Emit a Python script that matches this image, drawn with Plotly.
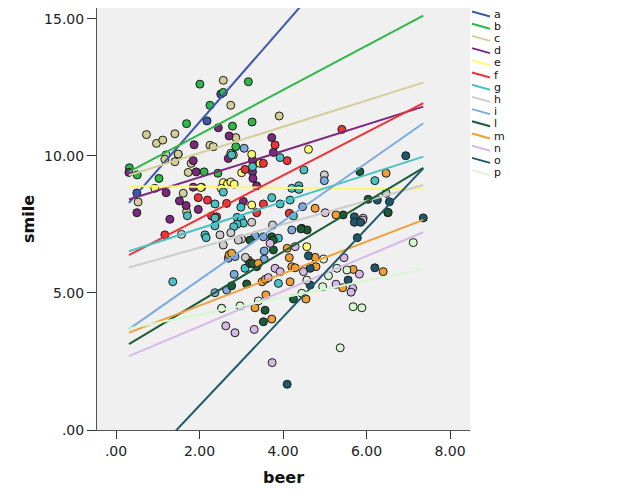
import plotly.graph_objects as go

# ---------------- data ----------------
groups = ["a", "b", "c", "d", "e", "f", "g", "h", "i", "l", "m", "n", "o", "p"]
colors = ["#3E58AC", "#2EB848", "#D3CE97", "#7C287D", "#FBF873", "#EF3338", "#48C2C5",
          "#CCCCCC", "#7BAADD", "#1C5B37", "#F19E37", "#D8B8E6", "#1E586B", "#D6F7D2"]

a_beer = [0.50, 2.18, 2.51]
a_smile = [8.65, 11.28, 12.26]
b_beer = [2.01, 3.17, 2.57, 2.25, 1.69, 2.79, 3.26, 2.87, 1.49, 0.32, 0.51, 1.03, 2.11, 2.44]
b_smile = [12.62, 12.71, 12.32, 11.85, 11.18, 11.09, 11.24, 10.34, 10.06, 9.57, 9.31, 9.18, 9.42, 9.37]
c_beer = [2.57, 2.75, 0.73, 0.97, 1.12, 1.41, 2.87, 2.25, 2.33, 1.20, 1.49, 2.75, 2.81, 1.80,
          1.73, 1.61, 0.53, 1.69, 3.91, 1.41, 1.17]
c_smile = [12.76, 11.85, 10.78, 10.46, 10.58, 10.81, 10.67, 10.39, 10.34, 10.04, 10.07, 10.10, 10.04, 9.73,
           9.40, 8.64, 8.32, 7.97, 11.46, 9.79, 9.88]
d_beer = [0.31, 2.45, 2.71, 1.87, 1.85, 1.92, 2.69, 3.27, 3.37, 1.20, 1.85, 2.05, 0.50, 1.52,
          1.68, 3.05, 1.29, 3.73, 3.77, 3.27, 3.28, 1.97]
d_smile = [9.40, 11.03, 10.73, 10.41, 9.83, 9.42, 9.91, 9.85, 8.91, 8.66, 8.86, 8.86, 7.93, 8.36,
           8.19, 8.34, 7.69, 10.67, 10.13, 9.42, 9.18, 8.05]
e_beer = [0.93, 2.03, 2.57, 2.67, 2.75, 3.01, 3.25, 3.45, 4.61, 2.83, 3.25, 4.57, 2.52]
e_smile = [8.82, 8.85, 9.03, 8.98, 9.05, 9.39, 10.06, 9.73, 10.24, 8.97, 8.21, 6.69, 8.82]
f_beer = [1.97, 2.19, 3.53, 2.29, 2.41, 2.65, 5.41, 3.81, 4.10, 3.53, 3.09, 3.37, 4.15, 1.17, 3.17]
f_smile = [8.48, 8.39, 8.25, 7.81, 7.78, 8.27, 10.97, 10.40, 9.83, 9.73, 9.51, 7.93, 7.91, 7.12, 6.20]
g_beer = [2.57, 2.37, 1.71, 2.37, 3.93, 2.77, 3.27, 4.50, 4.21, 4.38, 4.38, 3.73, 3.93, 4.17,
          2.99, 4.25, 2.90, 3.00, 3.05, 2.90, 2.82, 2.13, 2.16, 1.36, 3.89, 3.09, 3.89, 6.20, 2.37]
g_smile = [8.68, 8.25, 7.82, 7.45, 9.94, 10.04, 9.61, 9.49, 8.82, 8.91, 8.78, 8.48, 8.25, 8.39,
           8.13, 7.81, 7.76, 7.70, 7.55, 7.51, 7.42, 7.12, 7.02, 5.41, 7.00, 5.90, 5.35, 9.10, 7.74]
h_beer = [3.25, 3.75, 1.57, 2.49, 2.57, 3.01, 2.93, 4.99, 6.47, 5.92, 2.75, 3.10]
h_smile = [7.58, 7.48, 7.14, 7.12, 6.75, 6.97, 6.93, 9.31, 8.64, 7.73, 7.20, 6.30]
i_beer = [3.07, 4.99, 4.47, 2.37, 2.65, 2.69, 3.33, 3.53, 4.21, 2.83, 2.85, 3.55, 3.55]
i_smile = [10.28, 9.10, 8.15, 5.01, 5.11, 6.27, 7.09, 7.05, 7.30, 5.68, 6.33, 6.53, 6.23]
l_beer = [5.44, 4.45, 4.58, 4.43, 3.21, 3.73, 3.77, 3.77, 3.21, 3.37, 4.25, 3.57, 3.53, 2.53,
          2.77, 3.13, 6.51, 5.84, 6.04, 6.52, 3.27]
l_smile = [7.85, 7.36, 7.30, 7.34, 6.93, 7.05, 6.93, 6.57, 6.08, 5.96, 4.78, 4.37, 3.95, 4.44,
           5.26, 5.33, 7.93, 9.43, 8.42, 7.94, 6.08]
m_beer = [4.77, 5.27, 2.71, 2.77, 3.41, 4.10, 4.15, 4.21, 4.29, 4.77, 4.79, 5.43, 3.50, 4.17,
          3.59, 4.55, 3.33, 3.73, 6.47, 6.40, 5.68, 3.58]
m_smile = [8.09, 7.85, 6.39, 6.45, 6.08, 6.63, 6.29, 5.96, 5.92, 6.30, 5.96, 5.19, 5.41, 5.41,
           4.93, 4.78, 4.46, 4.05, 9.37, 5.78, 5.86, 5.50]
n_beer = [5.01, 3.69, 4.29, 3.81, 3.93, 4.49, 5.46, 5.27, 3.65, 2.85, 3.31, 3.74, 2.63, 5.91,
          5.83, 5.67, 5.63]
n_smile = [7.93, 6.81, 6.69, 5.90, 5.78, 5.78, 6.29, 5.32, 5.56, 3.55, 3.67, 2.46, 3.80, 7.66,
           5.69, 5.17, 5.03]
o_beer = [7.36, 5.78, 5.71, 5.71, 5.86, 6.20, 4.61, 4.65, 5.56, 4.65, 4.10, 6.94, 6.26, 6.55]
o_smile = [7.74, 7.02, 7.78, 7.58, 7.58, 5.92, 6.36, 5.90, 5.47, 5.29, 1.67, 10.01, 8.39, 8.33]
p_beer = [7.12, 4.97, 5.09, 5.29, 5.53, 4.95, 4.45, 2.97, 3.41, 5.37, 5.68, 5.89, 4.57, 2.53]
p_smile = [6.84, 6.24, 5.63, 5.90, 5.84, 5.23, 4.99, 4.53, 4.71, 3.00, 4.50, 4.46, 5.47, 4.44]

# subgroup linear fit coefficients (smile = intercept + slope * beer)
fit_intercept = [7.75, 9.17, 9.15, 8.26, 8.91, 6.14, 6.37, 5.80, 3.35, 2.85, 3.37, 2.50, -2.34, 3.61]
fit_slope = [1.744, 0.809, 0.479, 0.481, -0.017, 0.787, 0.490, 0.427, 1.066, 0.913, 0.584, 0.641, 1.615, 0.306]

x_ticks = [0, 2, 4, 6, 8]
x_ticktext = [".00", "2.00", "4.00", "6.00", "8.00"]
y_ticks = [0, 5, 10, 15]
y_ticktext = [".00", "5.00", "10.00", "15.00"]

beer_lists = [a_beer, b_beer, c_beer, d_beer, e_beer, f_beer, g_beer, h_beer, i_beer, l_beer,
              m_beer, n_beer, o_beer, p_beer]
smile_lists = [a_smile, b_smile, c_smile, d_smile, e_smile, f_smile, g_smile, h_smile, i_smile, l_smile,
               m_smile, n_smile, o_smile, p_smile]

# ---------------- figure ----------------
W, H = 625, 500
OFF = 8  # page offset of the figure (body margin)
ML, MR, MT, MB = 89, 163, 0, 78
FONT = "DejaVu Sans"

fig = go.Figure()

for g, col, xs, ys in zip(groups, colors, beer_lists, smile_lists):
    fig.add_trace(go.Scatter(
        x=xs, y=ys, mode="markers", name=g, showlegend=False,
        marker=dict(size=8, color=col, line=dict(color="#1a1a1a", width=1)),
    ))

all_x = [v for xs in beer_lists for v in xs]
x_lo, x_hi = min(all_x), max(all_x)
for g, col, b0, b1 in zip(groups, colors, fit_intercept, fit_slope):
    fig.add_trace(go.Scatter(
        x=[x_lo, x_hi], y=[b0 + b1 * x_lo, b0 + b1 * x_hi], mode="lines",
        name=g, showlegend=False, line=dict(color=col, width=2),
    ))

# manual compact legend (SPSS style); positions given in page pixels
plot_w = W - ML - MR
plot_h = H - MT - MB
def px_x(p):
    return (p - OFF - ML) / plot_w
def px_y(p):
    return (H - MB - (p - OFF)) / plot_h

shapes = []
annotations = []
for k, (g, col) in enumerate(zip(groups, colors)):
    yc = 14.0 + k * 12.2
    shapes.append(dict(type="line", xref="paper", yref="paper",
                       x0=px_x(472), y0=px_y(yc - 2.5), x1=px_x(490), y1=px_y(yc + 2.5),
                       line=dict(color=col, width=2)))
    annotations.append(dict(xref="paper", yref="paper", x=px_x(493), y=px_y(yc),
                            text=g, showarrow=False, xanchor="left", yanchor="middle",
                            borderpad=0,
                            font=dict(family=FONT, size=11, color="#111")))

fig.update_layout(
    width=W, height=H,
    margin=dict(l=ML, r=MR, t=MT, b=MB),
    paper_bgcolor="white",
    plot_bgcolor="#F0F0F0",
    showlegend=False,
    shapes=shapes,
    annotations=annotations,
    font=dict(family=FONT, color="#222"),
)
fig.update_xaxes(
    range=[-0.455, 8.479], tickvals=x_ticks, ticktext=x_ticktext,
    ticks="outside", ticklen=8, tickcolor="#333", tickwidth=1,
    showline=True, linecolor="#555", linewidth=1,
    showgrid=False, zeroline=False,
    tickfont=dict(family=FONT, size=14, color="#222"),
    title=dict(text="beer", font=dict(family=FONT, size=16, color="#111", weight="bold"), standoff=14),
)
fig.update_yaxes(
    range=[0, 15.40], tickvals=y_ticks, ticktext=y_ticktext,
    ticks="outside", ticklen=9, tickcolor="#333", tickwidth=1,
    showline=True, linecolor="#555", linewidth=1,
    showgrid=False, zeroline=False,
    tickfont=dict(family=FONT, size=14, color="#222"),
    title=dict(text="smile", font=dict(family=FONT, size=16, color="#111", weight="bold"), standoff=5),
)

fig.write_html("out.html")
